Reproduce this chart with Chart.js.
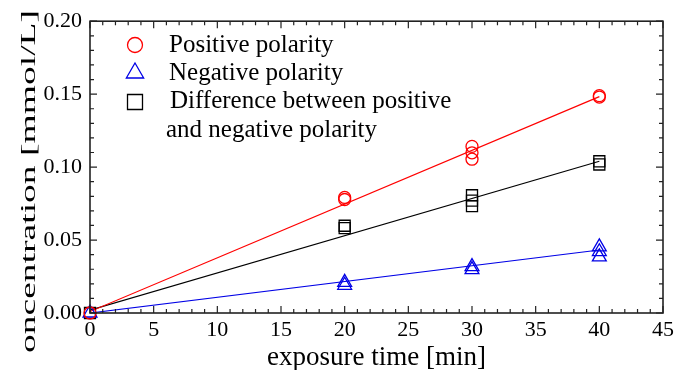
<!DOCTYPE html>
<html>
<head>
<meta charset="utf-8">
<script src="https://cdn.jsdelivr.net/npm/chart.js@4.4.1/dist/chart.umd.min.js"></script>
<style>
  html, body { margin: 0; padding: 0; background: #fff; }
  #wrap { width: 686px; height: 370px; position: relative; }
</style>
</head>
<body>
<div id="wrap"><canvas id="c"></canvas></div>
<script>
// ---- data ----
const posX  = [0, 20, 20, 30, 30, 30, 40, 40];
const posY  = [0, 0.0778, 0.0792, 0.1054, 0.1098, 0.1142, 0.1480, 0.1490];
const negX  = [0, 20, 20, 30, 30, 40, 40, 40];
const negY  = [0, 0.0190, 0.0210, 0.0297, 0.0318, 0.0385, 0.0420, 0.0453];
const diffX = [0, 20, 20, 30, 30, 30, 40, 40];
const diffY = [0, 0.0582, 0.0598, 0.0733, 0.0770, 0.0807, 0.1018, 0.1040];
const fitX    = [0, 40];
const posFit  = [0.001, 0.1483];
const negFit  = [0.0, 0.0432];
const diffFit = [0.002, 0.1040];
const legendLabels = ['Positive polarity', 'Negative polarity', 'Difference between positive', 'and negative polarity'];
const xTitle = 'exposure time [min]';
const yTitle = 'oncentration [mmol/L]';

const RED = '#ff0000', BLUE = '#0000e6', BLACK = '#000000';
const pts = (xs, ys) => xs.map((x, i) => ({x, y: ys[i]}));
const SERIF = '"Liberation Serif", "Times New Roman", serif';

const insideTicks = {
  id: 'insideTicks',
  afterDatasetsDraw(chart) {
    const {ctx, chartArea: a, scales: {x, y}} = chart;
    ctx.save();
    ctx.strokeStyle = '#222';
    ctx.lineWidth = 1.2;
    ctx.beginPath();
    for (let v = 0; v <= 45; v += 1) {
      const px = x.getPixelForValue(v);
      const len = v % 5 === 0 ? 7 : 4;
      ctx.moveTo(px, a.bottom); ctx.lineTo(px, a.bottom - len);
      ctx.moveTo(px, a.top); ctx.lineTo(px, a.top + len);
    }
    for (let k = 0; k <= 20; k += 1) {
      const py = y.getPixelForValue(k / 100);
      const len = k % 5 === 0 ? 7 : 4;
      ctx.moveTo(a.left, py); ctx.lineTo(a.left + len, py);
      ctx.moveTo(a.right, py); ctx.lineTo(a.right - len, py);
    }
    ctx.stroke();
    ctx.lineWidth = 1.6;
    ctx.strokeRect(a.left, a.top, a.right - a.left, a.bottom - a.top);
    ctx.restore();
  },
  afterDraw(chart) {
    const {ctx} = chart;
    const ds = chart.data.datasets;
    ctx.save();
    // legend
    const marks = [
      {d: ds[0], x: 135, y: 45, r: 7.5},
      {d: ds[1], x: 135, y: 73, r: 10},
      {d: ds[2], x: 135, y: 102, r: 10.6}
    ];
    marks.forEach(m => {
      ctx.strokeStyle = m.d.pointBorderColor;
      ctx.fillStyle = 'rgba(0,0,0,0)';
      ctx.lineWidth = 1.3;
      Chart.helpers.drawPoint(ctx, {pointStyle: m.d.pointStyle, rotation: 0, radius: m.r, borderWidth: 1.3}, m.x, m.y);
    });
    ctx.fillStyle = '#000';
    ctx.font = '25px ' + SERIF;
    ctx.textAlign = 'left';
    ctx.textBaseline = 'alphabetic';
    ctx.fillText(legendLabels[0], 169, 52);
    ctx.fillText(legendLabels[1], 169, 80);
    ctx.fillText(legendLabels[2], 170, 108);
    ctx.fillText(legendLabels[3], 166, 137);
    // y axis title
    ctx.font = '22px ' + SERIF;
    const w = ctx.measureText(yTitle).width;
    ctx.translate(35, 353);
    ctx.rotate(-Math.PI / 2);
    ctx.scale(343 / w, 1);
    ctx.fillText(yTitle, 0, 0);
    ctx.restore();
  }
};

new Chart(document.getElementById('c'), {
  type: 'scatter',
  data: {
    datasets: [
      {label: legendLabels[0], data: pts(posX, posY), pointStyle: 'circle', pointRadius: 6,
       pointBorderColor: RED, pointBackgroundColor: 'rgba(0,0,0,0)', pointBorderWidth: 1.3, showLine: false, clip: false, order: 1},
      {label: legendLabels[1], data: pts(negX, negY), pointStyle: 'triangle', pointRadius: 8,
       pointBorderColor: BLUE, pointBackgroundColor: 'rgba(0,0,0,0)', pointBorderWidth: 1.3, showLine: false, clip: false, order: 1},
      {label: legendLabels[2], data: pts(diffX, diffY), pointStyle: 'rect', pointRadius: 7.8,
       pointBorderColor: BLACK, pointBackgroundColor: 'rgba(0,0,0,0)', pointBorderWidth: 1.3, showLine: false, clip: false, order: 1},
      {label: 'fit+', data: pts(fitX, posFit), showLine: true, borderColor: RED, borderWidth: 1.2, pointRadius: 0, order: 2},
      {label: 'fit-', data: pts(fitX, negFit), showLine: true, borderColor: BLUE, borderWidth: 1.2, pointRadius: 0, order: 2},
      {label: 'fitd', data: pts(fitX, diffFit), showLine: true, borderColor: BLACK, borderWidth: 1.2, pointRadius: 0, order: 2}
    ]
  },
  options: {
    responsive: true,
    maintainAspectRatio: false,
    animation: false,
    layout: {padding: {top: 17, right: 23, left: 0, bottom: 0}},
    plugins: {legend: {display: false}, tooltip: {enabled: false}},
    scales: {
      x: {
        type: 'linear', min: 0, max: 45,
        grid: {display: false, drawTicks: false},
        border: {display: false},
        ticks: {stepSize: 5, color: '#000', padding: 4, maxRotation: 0, font: {family: SERIF, size: 22}},
        title: {display: true, text: xTitle, color: '#000', padding: 0, font: {family: SERIF, size: 27, lineHeight: 0.92}},
        afterFit: s => { s.height = 57; }
      },
      y: {
        type: 'linear', min: 0, max: 0.2,
        grid: {display: false, drawTicks: false},
        border: {display: false},
        ticks: {stepSize: 0.05, color: '#000', padding: 8, font: {family: SERIF, size: 22},
                callback: v => Number(v).toFixed(2)},
        afterFit: s => { s.width = 90; }
      }
    }
  },
  plugins: [insideTicks]
});
</script>
</body>
</html>
